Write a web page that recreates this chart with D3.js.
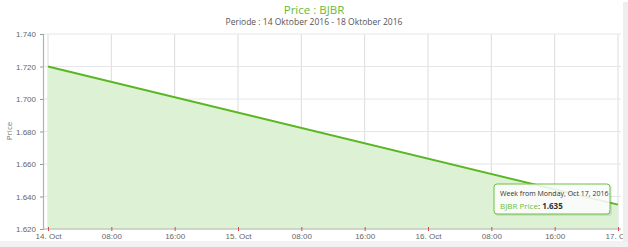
<!DOCTYPE html>
<html>
<head>
<meta charset="utf-8">
<script src="https://cdn.jsdelivr.net/npm/d3@7"></script>
<style>
  body { margin: 0; background: #fff; }
  svg { display: block; font-family: "Open Sans", "DejaVu Sans", sans-serif; }
</style>
</head>
<body>
<svg id="chart" width="628" height="247"></svg>
<script>
// data
var dates = ["2016-10-14T00:00", "2016-10-17T00:00"];
var prices = [1.720, 1.635];
var yTicks = [1.620, 1.640, 1.660, 1.680, 1.700, 1.720, 1.740];
var titleText = "Price : BJBR";
var subtitleText = "Periode : 14 Oktober 2016 - 18 Oktober 2016";
var tipHeader = "Week from Monday, Oct 17, 2016";
var tipSeries = "BJBR Price";

var parse = d3.timeParse("%Y-%m-%dT%H:%M");
var points = dates.map(function (d, i) { return {date: parse(d), value: prices[i]}; });

var svg = d3.select("#chart");
var plotLeft = 48, plotRight = 618, plotTop = 34, plotBottom = 229;

var x = d3.scaleTime()
  .domain([parse("2016-10-14T00:00"), parse("2016-10-17T00:00")])
  .range([plotLeft, plotRight]);
var y = d3.scaleLinear().domain([1.62, 1.74]).range([plotBottom, plotTop]);

var xTicks = d3.timeHour.every(8).range(parse("2016-10-14T00:00"), parse("2016-10-17T00:01"));
var fmtX = function (d) {
  return d.getHours() === 0 ? d3.timeFormat("%-d. %b")(d) : d3.timeFormat("%H:%M")(d);
};

// gridlines
svg.append("g").selectAll("line").data(xTicks).enter().append("line")
  .attr("x1", function (d) { return x(d); }).attr("x2", function (d) { return x(d); })
  .attr("y1", plotTop).attr("y2", plotBottom)
  .attr("stroke", "#dcdcdc").attr("stroke-width", 1);
svg.append("g").selectAll("line").data(yTicks).enter().append("line")
  .attr("x1", 43).attr("x2", 621)
  .attr("y1", function (d) { return y(d); }).attr("y2", function (d) { return y(d); })
  .attr("stroke", "#e6e6e6").attr("stroke-width", 1);

// area + line
var area = d3.area()
  .x(function (d) { return x(d.date); })
  .y0(plotBottom).y1(function (d) { return y(d.value); });
var line = d3.line()
  .x(function (d) { return x(d.date); })
  .y(function (d) { return y(d.value); });

svg.append("path").datum(points).attr("d", area).attr("fill", "#ddf2d5");
svg.append("path").datum(points).attr("d", line)
  .attr("fill", "none").attr("stroke", "#5bb624").attr("stroke-width", 2);

// y axis
var yAxis = d3.axisLeft(y).tickValues(yTicks).tickSize(3)
  .tickFormat(function (d) { return d3.format(".3f")(d); });
var gy = svg.append("g").attr("transform", "translate(43,0)").call(yAxis);
gy.select(".domain").attr("stroke", "#b0b0b0").attr("stroke-width", 1.2);
gy.selectAll(".tick line").attr("stroke", "#999");
gy.selectAll("text").attr("fill", "#666").attr("font-size", "8px").attr("dx", "-1");

// x axis
var xAxis = d3.axisBottom(x).tickValues(xTicks).tickSize(3).tickFormat(fmtX);
var gx = svg.append("g").attr("transform", "translate(0," + plotBottom + ")").call(xAxis);
gx.select(".domain").attr("stroke", "#b5b5b5").attr("stroke-width", 1.2)
  .attr("d", "M43,0H621");
gx.selectAll(".tick line").attr("stroke", "#e04848").attr("y1", -2).attr("y2", 2);
gx.selectAll("text").attr("fill", "#666").attr("font-size", "8px").attr("dy", "0.55em");

// axis title
svg.append("text")
  .attr("transform", "translate(12,131) rotate(-90)")
  .attr("text-anchor", "middle")
  .attr("fill", "#777").attr("font-size", "8px")
  .text("Price");

// titles
svg.append("text").attr("x", 314).attr("y", 14).attr("text-anchor", "middle")
  .attr("fill", "#66bb33").attr("font-size", "11.5px").text(titleText);
svg.append("text").attr("x", 314).attr("y", 25).attr("text-anchor", "middle")
  .attr("fill", "#555").attr("font-size", "8.5px").text(subtitleText);

// tooltip
var last = points[points.length - 1];
var tip = svg.append("g").attr("transform", "translate(494,184)");
tip.append("rect").attr("x", 1).attr("y", 1).attr("width", 117).attr("height", 31)
  .attr("rx", 3).attr("fill", "rgba(0,0,0,0.08)");
tip.append("rect").attr("width", 116).attr("height", 30).attr("rx", 3)
  .attr("fill", "rgba(255,255,255,0.86)").attr("stroke", "#6cbf3f").attr("stroke-width", 1);
tip.append("text").attr("x", 6).attr("y", 12).attr("font-size", "7px").attr("fill", "#333")
  .text(tipHeader);
var t2 = tip.append("text").attr("x", 6).attr("y", 25).attr("font-size", "8px");
t2.append("tspan").attr("fill", "#6cbf3f").text(tipSeries);
t2.append("tspan").attr("fill", "#333").text(": ");
t2.append("tspan").attr("fill", "#333").attr("font-weight", "bold").text(d3.format(".3f")(last.value));

// frame strips like the screenshot (drawn last, they clip the edge label)
svg.append("rect").attr("x", 0).attr("y", 241).attr("width", 628).attr("height", 6).attr("fill", "#f2f2f2");
svg.append("rect").attr("x", 623).attr("y", 2).attr("width", 5).attr("height", 240).attr("fill", "#eeeeee");
</script>
</body>
</html>
